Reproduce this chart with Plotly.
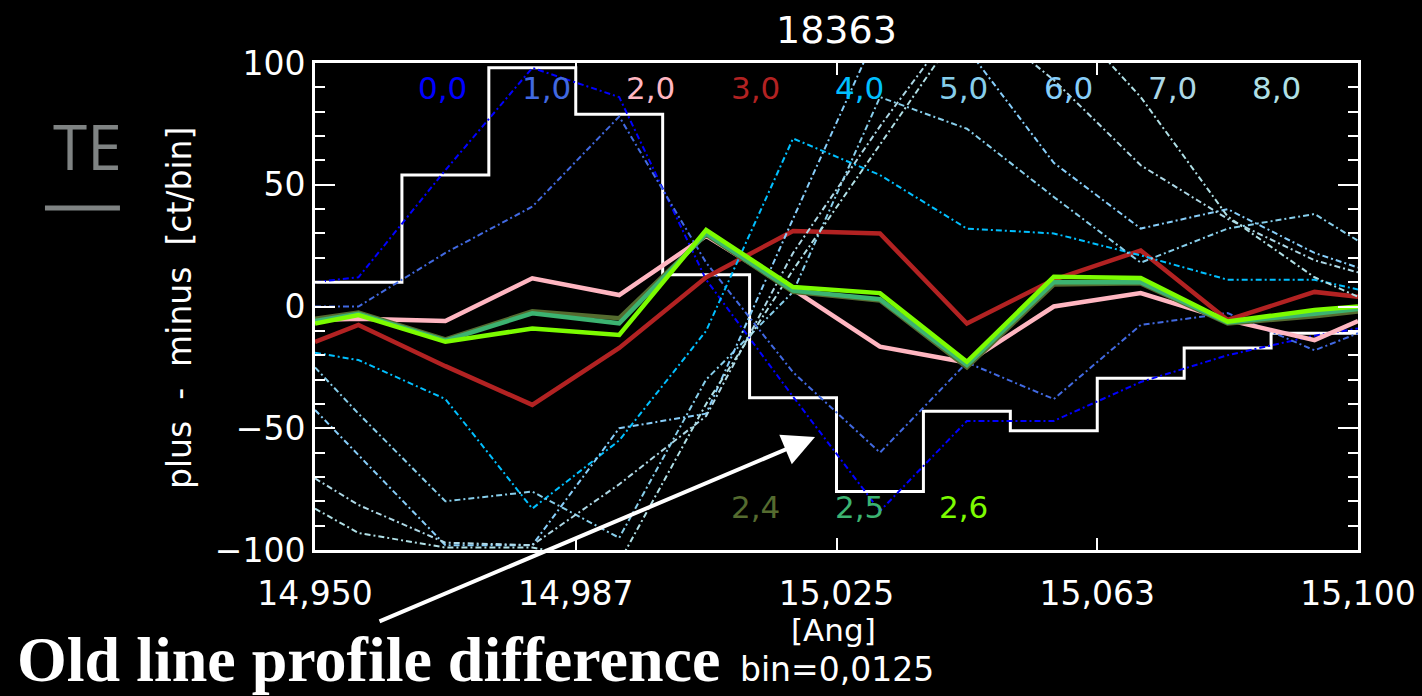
import plotly.graph_objects as go

# ---- wavelength grid (Angstrom) ----
wl_lo = 14.950
wl_hi = 15.100
bin_w = 0.0125
n_bins = 12
edges = [round(wl_lo + k * bin_w, 6) for k in range(n_bins + 1)]
centers = [round(wl_lo + (k + 0.5) * bin_w, 6) for k in range(n_bins)]
x_prof = [wl_lo] + centers + [wl_hi]

tick_vals = [14.950, 14.9875, 15.025, 15.0625, 15.100]
tick_text = ["14,950", "14,987", "15,025", "15,063", "15,100"]
y_tick_vals = [-100, -50, 0, 50, 100]
y_tick_text = ["\u2212100", "\u221250", "0", "50", "100"]

# ---- observed difference (histogram, counts per bin) ----
old_diff = [10, 54, 98, 79, 13, -37.5, -76, -43, -51, -29.5, -17, -11]

# ---- model profile differences: value at left edge, 12 bin centres, right edge ----
prof_0_0 = [10, 12, 56, 98, 86, 11, -37, -84, -47, -47, -31, -20, -12, -9]
prof_1_0 = [0, 0, 22, 41, 78, 18, -27, -60, -23, -38, -7.6, -2.7, -18, -11]
prof_2_0 = [-5.5, -5, -6, 11.6, 4.7, 29, 7, -16.5, -23, 0, 5.5, -5.5, -13.8, -6]
prof_3_0 = [-14.5, -7.6, -24.5, -40.4, -17, 12, 31, 30, -7, 11, 23, -5.5, 6, 4]
prof_4_0 = [-19, -22, -38, -83, -55, -10, 69, 54, 32, 30, 21, 11, 11, 7]
prof_5_0 = [-25, -44, -80, -76, -95, -30, 6, 86, 73, 45, 18, 32, 38, 27]
prof_6_0 = [-42.5, -61, -98, -98, -50, -44, 36, 115, 106, 59, 32, 40, 22, 16]
prof_7_0 = [-70.6, -81.5, -97, -98, -73, -45, 22, 74, 122, 93, 58, 36, 19, 14]
prof_8_0 = [-83, -93, -99, -99, -105, -40, 15, 67, 118, 125, 86, 37, 12, 4]
prof_2_4 = [-5, -2.5, -13.5, -2, -4.8, 29.5, 6, 2.5, -25, 9, 9.5, -7, -4, -2]
prof_2_5 = [-6, -3, -14, -2.8, -6.9, 30, 6.5, 3, -24, 10, 10, -6.5, -3, -1]
prof_2_6 = [-7, -3.5, -14.5, -9, -11.7, 31.4, 8, 5.5, -22.7, 12.2, 11.7, -6.2, -1.4, 0]

labels_top = ["0,0", "1,0", "2,0", "3,0", "4,0", "5,0", "6,0", "7,0", "8,0"]
labels_bot = ["2,4", "2,5", "2,6"]

colors = {
    "0,0": "#0000ff", "1,0": "#4169e1", "2,0": "#ffb6c1", "3,0": "#b22222",
    "4,0": "#00bfff", "5,0": "#87ceeb", "6,0": "#87cefa", "7,0": "#add8e6",
    "8,0": "#b0e0e6", "2,4": "#556b2f", "2,5": "#3cb371", "2,6": "#7cfc00",
}

profiles = {
    "0,0": prof_0_0, "1,0": prof_1_0, "2,0": prof_2_0, "3,0": prof_3_0,
    "4,0": prof_4_0, "5,0": prof_5_0, "6,0": prof_6_0, "7,0": prof_7_0,
    "8,0": prof_8_0, "2,4": prof_2_4, "2,5": prof_2_5, "2,6": prof_2_6,
}
thick = {"2,0", "3,0", "2,4", "2,5", "2,6"}

fig = go.Figure()

# observed histogram
fig.add_trace(go.Scatter(
    x=edges, y=old_diff + [old_diff[-1]], mode="lines", line_shape="hv",
    line=dict(color="white", width=3), hoverinfo="skip", showlegend=False))

dashdot = "6px,3px,2px,3px"
for name in labels_top + labels_bot:
    if name in thick:
        line = dict(color=colors[name], width=4.5)
    else:
        line = dict(color=colors[name], width=2, dash=dashdot)
    fig.add_trace(go.Scatter(x=x_prof, y=profiles[name], mode="lines",
                             line=line, name=name, showlegend=False))

tick_font = dict(family="DejaVu Sans", size=33, color="white")
label_font = "DejaVu Sans"


def note(x, y, text, size, color="white", family=label_font, **kw):
    d = dict(x=x, y=y, xref="paper", yref="paper", text=text, showarrow=False,
             xanchor="center", yanchor="middle",
             font=dict(family=family, size=size, color=color))
    d.update(kw)
    return d


# curve labels drawn inside the frame
ann = []
for i, name in enumerate(labels_top):
    ann.append(note(0.122 + 0.1 * i, 0.949, name, 31, colors[name]))
for i, name in enumerate(labels_bot):
    ann.append(note(0.422 + 0.1 * i, 0.088, name, 31, colors[name]))

# title, axis titles and notes
ann += [
    note(0.5, 1.0677, "18363", 38),
    note(-0.1294, 0.497, "plus\u00a0\u00a0-\u00a0\u00a0minus\u00a0\u00a0[ct/bin]", 33,
         textangle=-90),
    note(0.4967, -0.164, "[Ang]", 31),
    note(0.5, -0.246, "bin=0,0125", 33),
    note(-0.2177, 0.83, "TE", 62, color="#7f8383", family="Open Sans"),
    note(-0.2876, -0.225, "<b>Old line profile difference</b>", 64,
         family="Liberation Serif", xanchor="left"),
    dict(x=0.4794, y=0.232, xref="paper", yref="paper", ax=-437, ay=185,
         text="", showarrow=True, arrowhead=2, arrowsize=1.6, arrowwidth=4,
         arrowcolor="white"),
]

fig.update_layout(
    width=1422, height=696,
    margin=dict(l=315, r=64, t=63, b=146, autoexpand=False),
    paper_bgcolor="black", plot_bgcolor="black",
    showlegend=False,
    annotations=ann,
    shapes=[dict(type="line", xref="paper", yref="paper",
                 x0=-0.2589, x1=-0.187, y0=0.7023, y1=0.7023,
                 line=dict(color="#7f8383", width=5))],
)
fig.update_xaxes(
    range=[wl_lo, wl_hi], tickvals=tick_vals, ticktext=tick_text,
    ticks="inside", ticklen=12, tickwidth=2, tickcolor="white",
    showline=True, linecolor="white", linewidth=3, mirror="allticks",
    showgrid=False, zeroline=False, tickfont=tick_font, ticklabelstandoff=12,
    automargin=False,
)
fig.update_yaxes(
    range=[-100, 100], tickvals=y_tick_vals, ticktext=y_tick_text,
    ticks="inside", ticklen=20, tickwidth=2, tickcolor="white",
    minor=dict(dtick=10, ticks="inside", ticklen=10, tickwidth=2, tickcolor="white"),
    showline=True, linecolor="white", linewidth=3, mirror="allticks",
    showgrid=False, zeroline=False, tickfont=tick_font, ticklabelstandoff=0,
    automargin=False,
)

fig.write_html("out.html")
